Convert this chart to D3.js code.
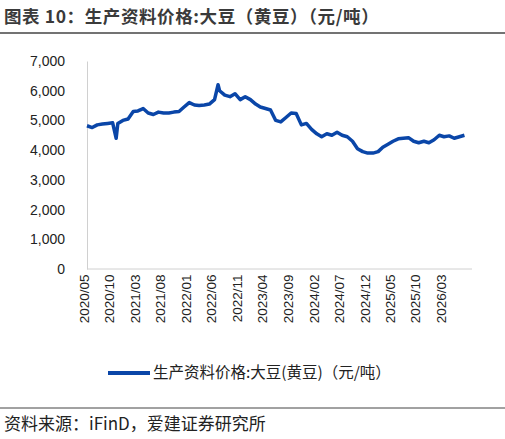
<!DOCTYPE html><html><head><meta charset="utf-8"><script src="https://cdn.jsdelivr.net/npm/d3@7"></script>
<style>body{margin:0;background:#fff;font-family:"Noto Sans CJK SC","Noto Sans",sans-serif}</style></head><body><svg id="c" width="505" height="439"></svg>
<script>
const months=["2020/05","2020/06","2020/07","2020/08","2020/09","2020/10","2020/10b","2020/11","2020/12","2021/01","2021/02","2021/03","2021/04","2021/05","2021/06","2021/07","2021/08","2021/09","2021/10","2021/11","2021/12","2022/01","2022/02","2022/03","2022/04","2022/05","2022/06","2022/06b","2022/07","2022/08","2022/09","2022/10","2022/11","2022/12","2023/01","2023/02","2023/03","2023/04","2023/05","2023/06","2023/07","2023/08","2023/09","2023/10","2023/11","2023/12","2024/01","2024/02","2024/03","2024/04","2024/05","2024/06","2024/07","2024/08","2024/09","2024/10","2024/11","2024/12","2025/01","2025/02","2025/03","2025/04","2025/05","2025/06","2025/07","2025/08","2025/09","2025/10","2025/11","2025/12","2026/01","2026/02","2026/03","2026/04","2026/05","2026/06","2026/07"];
const values=[4820,4760,4850,4880,4900,4920,4400,4900,5000,5050,5300,5320,5400,5250,5200,5280,5250,5250,5280,5300,5450,5600,5520,5500,5520,5550,5700,6200,6000,5850,5800,5900,5700,5800,5700,5550,5450,5400,5350,5000,4950,5100,5250,5230,4850,4900,4700,4550,4450,4550,4500,4600,4500,4450,4300,4050,3950,3900,3900,3950,4100,4200,4300,4380,4400,4420,4300,4250,4300,4250,4350,4500,4450,4480,4400,4450,4500];
const tickLabels=["2020/05","2020/10","2021/03","2021/08","2022/01","2022/06","2022/11","2023/04","2023/09","2024/02","2024/07","2024/12","2025/05","2025/10","2026/03"];
const yTicks=[0,1000,2000,3000,4000,5000,6000,7000];
function toDate(s){const b=s.endsWith("b");const [y,m]=s.replace("b","").split("/").map(Number);return new Date(y,m-1,b?22:1);}
const svg=d3.select("#c");
const x=d3.scaleTime().domain([new Date(2020,4,1),new Date(2026,2,1)]).range([87,444]);
const y=d3.scaleLinear().domain([0,7000]).range([269,61]);
svg.append("text").attr("x",4).attr("y",23).text("图表 10：生产资料价格:大豆（黄豆）（元/吨）").attr("font-size",17.5).attr("font-weight","bold").attr("fill","#3a3a3a").attr("letter-spacing",0.6);
svg.append("line").attr("x1",0).attr("x2",505).attr("y1",33).attr("y2",33).attr("stroke","#444").attr("stroke-width",1.5);
svg.append("line").attr("x1",0).attr("x2",505).attr("y1",408).attr("y2",408).attr("stroke","#444").attr("stroke-width",1);
svg.append("text").attr("x",4).attr("y",430).text("资料来源：iFinD，爱建证券研究所").attr("font-size",17).attr("fill","#222");
const ya=svg.append("g").attr("transform","translate(87,0)").call(d3.axisLeft(y).tickValues(yTicks).tickFormat(d3.format(",")).tickSize(0).tickPadding(22));
ya.select(".domain").attr("stroke","#d0d0d0");
ya.selectAll("text").attr("font-size",14).attr("fill","#222").attr("font-family","Liberation Sans,Arial,sans-serif");
const xa=svg.append("g").attr("transform","translate(0,269)").call(d3.axisBottom(x).tickValues(tickLabels.map(toDate)).tickFormat(d3.timeFormat("%Y/%m")).tickSize(0).tickPadding(6));
xa.select(".domain").attr("stroke","#d0d0d0").attr("d","M87,0H472");
xa.selectAll("text").attr("font-size",13.5).attr("fill","#222").attr("font-family","Liberation Sans,Arial,sans-serif").attr("text-anchor","end").attr("transform","rotate(-90)").attr("dx","-0.4em").attr("dy","-0.35em");
const line=d3.line().x((d,i)=>x(toDate(months[i]))).y(d=>y(d));
svg.append("path").datum(values).attr("d",line).attr("fill","none").attr("stroke","#0a46a8").attr("stroke-width",3.5).attr("stroke-linejoin","round");
svg.append("line").attr("x1",108).attr("x2",150).attr("y1",373).attr("y2",373).attr("stroke","#0a46a8").attr("stroke-width",4);
svg.append("text").attr("x",153).attr("y",378).text("生产资料价格:大豆(黄豆)（元/吨）").attr("font-size",15.5).attr("fill","#222");
</script></body></html>
